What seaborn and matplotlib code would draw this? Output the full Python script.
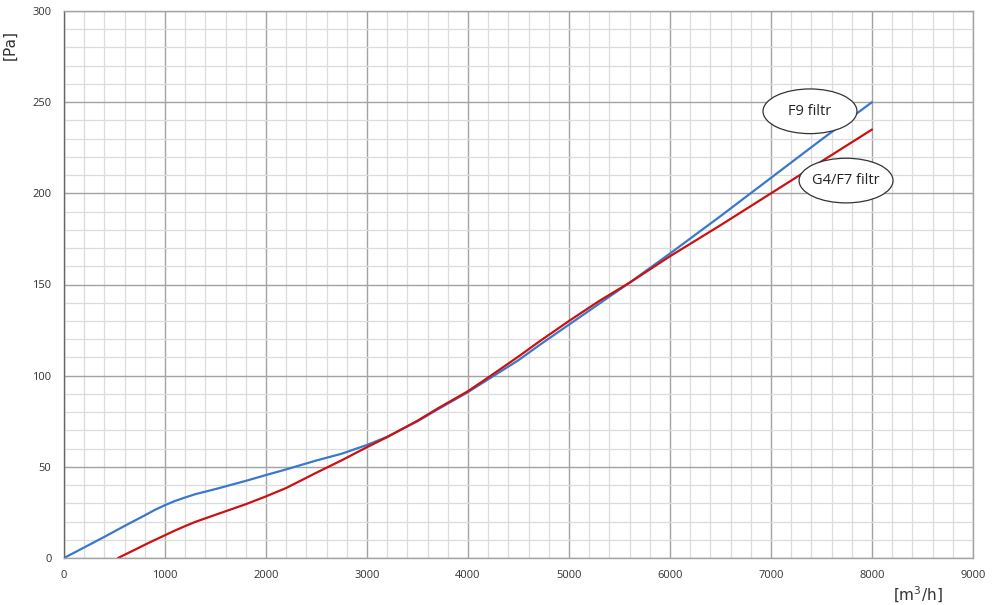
import numpy as np
import pandas as pd
import matplotlib
matplotlib.use("Agg")
import matplotlib.pyplot as plt
import seaborn as sns
from matplotlib.patches import Ellipse
from matplotlib.ticker import MultipleLocator

# airflow [m3/h] vs pressure drop [Pa]
f9_flow = [0, 200, 400, 600, 800, 900, 1000, 1100, 1200, 1300, 1500, 1800,
           2000, 2200, 2500, 2750, 3000, 3200, 3500, 3700, 4000, 4200, 4500,
           4700, 5000, 5300, 5600, 6000, 6500, 7000, 7500, 8000]
f9_pa = [0, 5.8, 11.6, 17.6, 23.4, 26.4, 29, 31.3, 33.2, 35, 37.8, 42.3,
         45.5, 48.6, 53.5, 57.2, 62, 66.5, 75, 81.5, 91, 98, 108.5,
         116.5, 128, 139.5, 151, 167, 187.5, 208.5, 229.5, 250]

g4_flow = [535, 700, 850, 1000, 1100, 1200, 1300, 1500, 1800, 2000, 2200,
           2500, 2750, 3000, 3200, 3500, 3700, 4000, 4200, 4500, 4700, 5000,
           5300, 5600, 6000, 6500, 7000, 7500, 8000]
g4_pa = [0, 4.5, 8.6, 12.5, 15.1, 17.5, 19.8, 23.7, 29.5, 33.8, 38.4,
         46.8, 53.6, 60.8, 66.3, 75.3, 82, 91.5, 99, 110.5, 118.5, 130,
         141, 151, 165.5, 182.5, 200, 217.5, 235]

labels = ["F9 filtr", "G4/F7 filtr"]
label_pos = [(7386, 245), (7743, 207)]

df = pd.concat([
    pd.DataFrame({"flow": f9_flow, "pa": f9_pa, "filtr": labels[0]}),
    pd.DataFrame({"flow": g4_flow, "pa": g4_pa, "filtr": labels[1]}),
])

sns.set_style("white")
plt.rcParams['font.family'] = ['Open Sans', 'DejaVu Sans']

fig = plt.figure(figsize=(9.92, 6.05), dpi=100)
ax = fig.add_axes([64 / 992, 47 / 605, 909 / 992, 547 / 605])

ax.xaxis.set_major_locator(MultipleLocator(1000))
ax.xaxis.set_minor_locator(MultipleLocator(200))
ax.yaxis.set_major_locator(MultipleLocator(50))
ax.yaxis.set_minor_locator(MultipleLocator(10))
ax.grid(True, which='minor', color='#dcdcdc', lw=0.9)
ax.grid(True, which='major', color='#a3a3a3', lw=1.0)
ax.set_axisbelow(True)

sns.lineplot(data=df, x="flow", y="pa", hue="filtr", sort=False,
             palette=["#3a78cc", "#cc1111"], lw=1.6, legend=False, ax=ax)

for txt, (cx, cy) in zip(labels, label_pos):
    ax.add_patch(Ellipse((cx, cy), 930, 24.5, facecolor='white',
                         edgecolor='#333333', lw=0.9, zorder=5))
    ax.text(cx, cy, txt, ha='center', va='center', fontsize=10.5,
            color='#222222', zorder=6)

ax.set_xlim(0, 9000)
ax.set_ylim(0, 300)
ax.set_xlabel("")
ax.set_ylabel("")
for sp in ax.spines.values():
    sp.set_color('#a3a3a3')
    sp.set_linewidth(1.0)
ax.spines['left'].set_color('#666666')
ax.tick_params(axis='both', which='major', length=4, width=1, color='#a3a3a3',
               labelsize=8, labelcolor='#333333', pad=5)
ax.tick_params(axis='both', which='minor', length=0)

fig.text(10 / 992, 1 - 45 / 605, "[Pa]", rotation=90, ha='center', va='center',
         fontsize=11, color='#333333', family='DejaVu Sans')
fig.text(918 / 992, 1 - 595 / 605, r"[m$^\mathregular{3}$/h]", ha='center', va='center',
         fontsize=11, color='#333333', family='DejaVu Sans')

fig.savefig("out.png", dpi=100)
